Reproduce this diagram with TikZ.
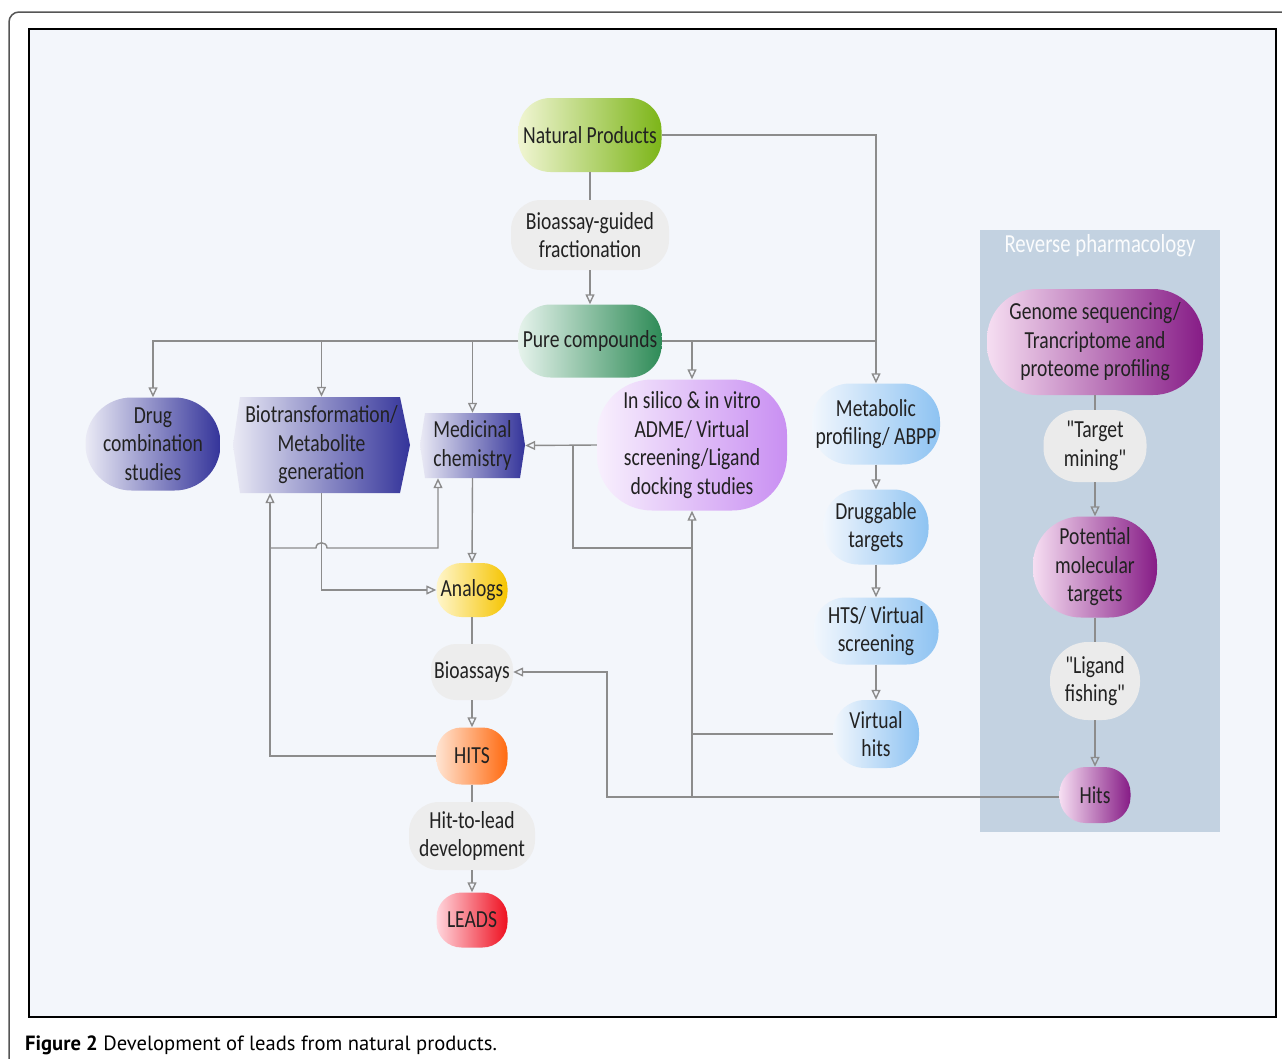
\documentclass[tikz,border=0pt]{standalone}
\usepackage{fontspec}
\setmainfont{Carlito}
\newfontfamily\dfont[FakeStretch=0.8]{Carlito}
\newfontfamily\capfont{PT Sans}
\usetikzlibrary{arrows.meta}
\definecolor{bg}{HTML}{F3F6FB}
\definecolor{panel}{HTML}{C3D2E1}
\definecolor{lc}{HTML}{8C8C8C}
\definecolor{txt}{HTML}{222222}
\definecolor{frm}{HTML}{555555}
\definecolor{greyfill}{HTML}{EDEDED}
\definecolor{npL}{HTML}{F0F5D2}\definecolor{npR}{HTML}{7CB518}
\definecolor{pcL}{HTML}{E6F3EC}\definecolor{pcR}{HTML}{2E8B57}
\definecolor{blL}{HTML}{EAEAF5}\definecolor{blR}{HTML}{34349A}
\definecolor{inL}{HTML}{F8F0FD}\definecolor{inR}{HTML}{C98FF2}
\definecolor{skL}{HTML}{F2F7FD}\definecolor{skR}{HTML}{8EC3F2}
\definecolor{anL}{HTML}{FFF6CC}\definecolor{anR}{HTML}{F5C400}
\definecolor{htL}{HTML}{FFE4D2}\definecolor{htR}{HTML}{FF6A10}
\definecolor{ldL}{HTML}{FFD6DD}\definecolor{ldR}{HTML}{EE1020}
\definecolor{puL}{HTML}{F6DEF2}\definecolor{puR}{HTML}{861C86}
\begin{document}
\begin{tikzpicture}[x=1pt,y=-1pt,
  box/.style={draw=none, align=center, text=txt, inner sep=0pt,
    font=\dfont\fontsize{24.5}{28.5}\selectfont},
  pill/.style={box, rounded corners=#1},
  grad/.style 2 args={left color=#1, right color=#2},
  greybox/.style={pill=#1, fill=greyfill},
  ln/.style={draw=lc, line width=1.4pt},
  arr/.style={ln, -{Triangle[open, length=10pt, width=9pt]}}]
\useasboundingbox (0,0) rectangle (1282,1058);
\fill[white] (0,0) rectangle (1282,1058);
% outer frame
\draw[draw=frm, line width=1.5pt, rounded corners=10pt] (9,1080) -- (9,12) -- (1300,12);
% inner frame
\draw[line width=2.5pt, fill=bg] (29,29) rectangle (1276,1017);
% reverse pharmacology panel
\fill[panel] (980,230) rectangle (1220,832);
\node[box, text=white!93!panel, font=\dfont\fontsize{26}{30}\selectfont] (rp) at (1100,246) {Reverse pharmacology};

% hexagon shapes
\shade[grad={blL}{blR}] (240,397) -- (400,397) -- (410,445) -- (400,493) -- (240,493) -- (233,445) -- cycle;
\shade[grad={blL}{blR}] (425,413) -- (520,413) -- (525,445) -- (520,478) -- (425,478) -- (420,445) -- cycle;

% nodes
\node[pill=32pt, grad={npL}{npR}, minimum width=143pt, minimum height=74pt] (NP) at (590,135) {Natural Products};
\node[greybox=30pt, minimum width=158pt, minimum height=70pt] (BGF) at (590,235) {Bioassay-guided\\fractionation};
\node[pill=32pt, grad={pcL}{pcR}, minimum width=143pt, minimum height=73pt] (PC) at (590,341) {Pure compounds};
\node[pill=46pt, grad={blL}{blR}, minimum width=135pt, minimum height=93pt] (DRUG) at (153,444) {Drug\\combination\\studies};
\node[box, minimum width=177pt, minimum height=96pt] (BIO) at (321.5,445) {Biotransformation/\\Metabolite\\generation};
\node[box, minimum width=105pt, minimum height=65pt] (MED) at (472.5,445.5) {Medicinal\\chemistry};
\node[pill=55pt, grad={inL}{inR}, minimum width=190pt, minimum height=131pt] (INS) at (692,445) {In silico \& in vitro\\ADME/ Virtual\\screening/Ligand\\docking studies};
\node[pill=38pt, grad={skL}{skR}, minimum width=128pt, minimum height=81pt] (MET) at (876,424) {Metabolic\\profiling/ ABPP};
\node[pill=35pt, grad={skL}{skR}, minimum width=105pt, minimum height=75pt] (DT) at (876,527) {Druggable\\targets};
\node[pill=32pt, grad={skL}{skR}, minimum width=125pt, minimum height=67pt] (HTS) at (876,631) {HTS/ Virtual\\screening};
\node[pill=32pt, grad={skL}{skR}, minimum width=86pt, minimum height=68pt] (VH) at (876,734) {Virtual\\hits};
\node[pill=25pt, grad={anL}{anR}, minimum width=71pt, minimum height=54pt] (AN) at (472,590) {Analogs};
\node[greybox=25pt, minimum width=82pt, minimum height=56pt] (BA) at (472,672) {Bioassays};
\node[pill=25pt, grad={htL}{htR}, minimum width=71pt, minimum height=57pt] (HITS) at (472,756) {HITS};
\node[greybox=30pt, minimum width=126pt, minimum height=68pt] (HTL) at (472,836) {Hit-to-lead\\development};
\node[pill=25pt, grad={ldL}{ldR}, minimum width=71pt, minimum height=55pt] (LEADS) at (472,920) {LEADS};
\node[pill=50pt, grad={puL}{puR}, minimum width=216pt, minimum height=106pt] (GEN) at (1095,342) {Genome sequencing/\\Trancriptome and\\proteome profiling};
\node[pill=34pt, fill=white!92!black, minimum width=103pt, minimum height=72pt] (TM) at (1095,446) {"Target\\mining"};
\node[pill=48pt, grad={puL}{puR}, minimum width=124pt, minimum height=101pt] (PMT) at (1095,567) {Potential\\molecular\\targets};
\node[pill=38pt, fill=white!92!black, minimum width=90pt, minimum height=78pt] (LF) at (1095,681) {"Ligand\\fishing"};
\node[pill=26pt, grad={puL}{puR}, minimum width=71pt, minimum height=56pt] (HITS2) at (1095,795) {Hits};

% caption
\node[anchor=base west, inner sep=0pt, font=\capfont\fontsize{20.6}{24}\selectfont] (cap) at (25,1050) {\textbf{Figure 2} Development of leads from natural products.};

% helper coordinates
\coordinate (jL) at (270,548);
\coordinate (jR) at (438,548);
\coordinate (kx) at (573,548);
\coordinate (bx) at (607,797);

% connectors
\draw[ln] (NP.south) -- (BGF.north);
\draw[arr] (BGF.south) -- (PC.north);
\draw[arr] (NP.east) -| (MET.north);
\draw[ln] (PC.east) -- (PC.east -| MET.north);
\draw[arr] (INS.north |- PC.east) -- (INS.north);
\draw[arr] (PC.west) -| (DRUG.north);
\draw[arr] (BIO.north |- PC.west) -- (BIO.north);
\draw[arr] (MED.north |- PC.west) -- (MED.north);
\draw[arr] (MED.south) -- (AN.north);
\draw[arr] (BIO.south) -- (BIO.south |- AN.west) -- (AN.west);
\draw[arr] (HITS.west) -| (BIO.south -| jL);
\draw[arr] (jL) -- (316,548) .. controls (316,541) and (327,541) .. (327,548) -- (jR) -- (MED.south -| jR);
\draw[arr] (INS.west) -- (MED.east);
\draw[ln] (kx |- MED.east) -- (kx) -- (kx -| INS.south);
\draw[arr] (HITS2.west |- bx) -- (bx) |- (BA.east);
\draw[arr] (INS.south |- bx) -- (INS.south);
\draw[ln] (VH.west) -- (VH.west -| INS.south);
\draw[arr] (MET.south) -- (DT.north);
\draw[arr] (DT.south) -- (HTS.north);
\draw[arr] (HTS.south) -- (VH.north);
\draw[ln] (AN.south) -- (BA.north);
\draw[arr] (BA.south) -- (HITS.north);
\draw[ln] (HITS.south) -- (HTL.north);
\draw[arr] (HTL.south) -- (LEADS.north);
\draw[ln] (GEN.south) -- (TM.north);
\draw[arr] (TM.south) -- (PMT.north);
\draw[ln] (PMT.south) -- (LF.north);
\draw[arr] (LF.south) -- (HITS2.north);
\end{tikzpicture}
\end{document}
